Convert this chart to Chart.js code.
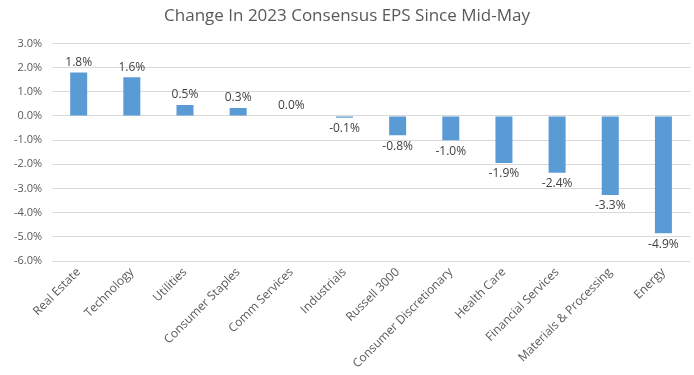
<!DOCTYPE html>
<html>
<head>
<meta charset="utf-8">
<script src="https://cdn.jsdelivr.net/npm/chart.js@4"></script>
<style>
  html, body { margin: 0; padding: 0; background: #fff; }
  #wrap { width: 694px; height: 375px; }
</style>
</head>
<body>
<div id="wrap"><canvas id="grafico"></canvas></div>
<script>
// Datos del gráfico
var categorias = ['Real Estate', 'Technology', 'Utilities', 'Consumer Staples', 'Comm Services',
    'Industrials', 'Russell 3000', 'Consumer Discretionary', 'Health Care', 'Financial Services',
    'Materials & Processing', 'Energy'];
var cambioEps = [1.8, 1.6, 0.45, 0.33, 0.0, -0.07, -0.8, -1.0, -1.94, -2.35, -3.27, -4.85];
var etiquetas = ['1.8%', '1.6%', '0.5%', '0.3%', '0.0%', '-0.1%', '-0.8%', '-1.0%', '-1.9%', '-2.4%', '-3.3%', '-4.9%'];

var fuente = "'Open Sans', sans-serif";

// etiquetas de valor encima / debajo de cada barra
var etiquetasBarras = {
    id: 'etiquetasBarras',
    afterDatasetsDraw: function(chart) {
        var ctx = chart.ctx;
        var meta = chart.getDatasetMeta(0);
        ctx.save();
        ctx.font = '12px ' + fuente;
        ctx.fillStyle = '#404040';
        ctx.textAlign = 'center';
        meta.data.forEach(function(bar, i) {
            var v = cambioEps[i];
            if (v >= 0) {
                ctx.textBaseline = 'bottom';
                ctx.fillText(etiquetas[i], bar.x, Math.min(bar.y, bar.base) - 4);
            } else {
                ctx.textBaseline = 'top';
                ctx.fillText(etiquetas[i], bar.x, Math.max(bar.y, bar.base) + 5);
            }
        });
        ctx.restore();
    }
};

var config = {
    type: 'bar',
    data: {
        labels: categorias,
        datasets: [{
            label: 'Change In 2023 Consensus EPS',
            data: cambioEps,
            backgroundColor: '#5B9BD5',
            borderWidth: 0,
            categoryPercentage: 1.0,
            barPercentage: 0.32
        }]
    },
    options: {
        responsive: true,
        maintainAspectRatio: false,
        animation: false,
        layout: { padding: { left: 4, right: 4, top: 4, bottom: 0 } },
        plugins: {
            legend: { display: false },
            tooltip: { enabled: false },
            title: {
                display: true,
                text: 'Change In 2023 Consensus EPS Since Mid-May',
                color: '#595959',
                font: { family: fuente, size: 17, weight: 'normal' },
                padding: { top: 2, bottom: 17 }
            }
        },
        scales: {
            x: {
                grid: { display: false, drawTicks: false },
                border: { display: false },
                ticks: {
                    color: '#595959',
                    font: { family: fuente, size: 12 },
                    minRotation: 45,
                    maxRotation: 45,
                    autoSkip: false,
                    padding: 4
                }
            },
            y: {
                min: -6,
                max: 3,
                grid: { color: '#d9d9d9', drawTicks: false },
                border: { display: false },
                ticks: {
                    stepSize: 1,
                    color: '#595959',
                    font: { family: fuente, size: 11 },
                    padding: 10,
                    callback: function(value) { return value.toFixed(1) + '%'; }
                }
            }
        }
    },
    plugins: [etiquetasBarras]
};

var grafico = new Chart(document.getElementById('grafico'), config);
</script>
</body>
</html>
